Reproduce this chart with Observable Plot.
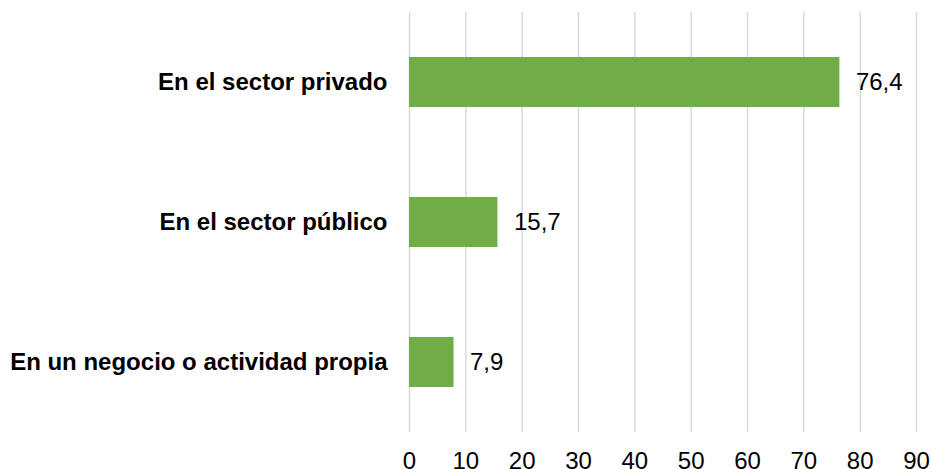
<!DOCTYPE html>
<html>
<head>
<meta charset="utf-8">
<script src="https://cdn.jsdelivr.net/npm/d3@7"></script>
<script src="https://cdn.jsdelivr.net/npm/@observablehq/plot@0.6"></script>
<style>
  html, body { margin: 0; padding: 0; background: #fff; }
  #chart svg { display: block; }
</style>
</head>
<body>
<div id="chart"></div>
<script>
const categories = ["En el sector privado", "En el sector público", "En un negocio o actividad propia"];
const values = [76.4, 15.7, 7.9];
const xTicks = [0, 10, 20, 30, 40, 50, 60, 70, 80, 90];

const data = categories.map((c, i) => ({category: c, value: values[i]}));
const fmt = v => String(v).replace(".", ",");

const chart = Plot.plot({
  width: 932,
  height: 469,
  marginLeft: 409,
  marginRight: 16,
  marginTop: 12,
  marginBottom: 37,
  style: {fontFamily: "Liberation Sans, Arial, sans-serif", background: "#fff"},
  x: {domain: [0, 90], ticks: xTicks, label: null},
  y: {domain: categories, label: null, paddingInner: 0.643, paddingOuter: 0.32},
  marks: [
    Plot.ruleX(xTicks, {stroke: "#d9d9d9", strokeWidth: 1.5, strokeOpacity: 1}),
    Plot.barX(data, {x: "value", y: "category", fill: "#70AD47"}),
    Plot.text(data, {x: "value", y: "category", text: d => fmt(d.value), textAnchor: "start", dx: 16, fontSize: 24, fill: "#000"}),
    Plot.axisX({ticks: xTicks, tickSize: 0, tickPadding: 19, fontSize: 24, label: null, color: "#000"}),
    Plot.axisY({tickSize: 0, tickPadding: 22, fontSize: 24, fontWeight: "bold", label: null, color: "#000"})
  ]
});
chart.querySelectorAll("text").forEach(t => t.setAttribute("fill", "#000"));
document.getElementById("chart").appendChild(chart);
</script>
</body>
</html>
